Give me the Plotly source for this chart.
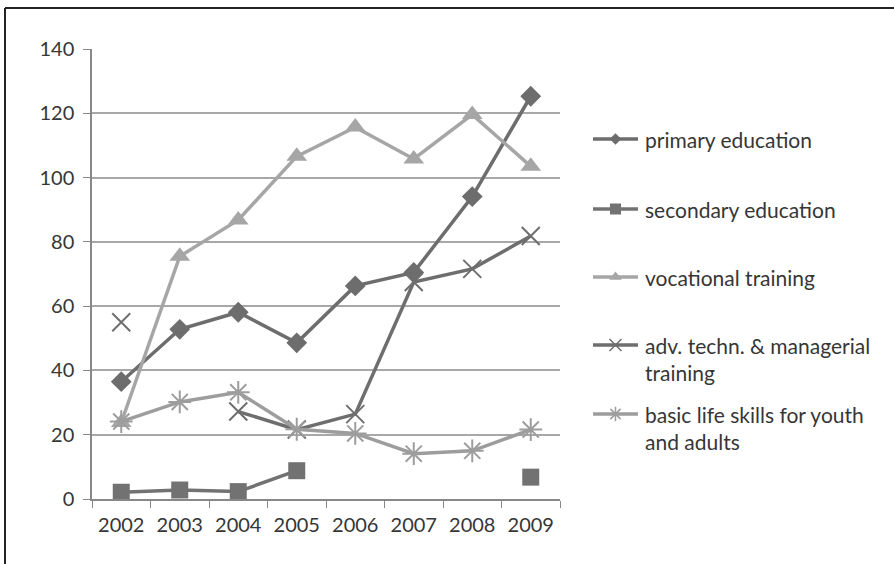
import plotly.graph_objects as go

years = ["2002", "2003", "2004", "2005", "2006", "2007", "2008", "2009"]
primary = [36.5, 52.8, 58.1, 48.6, 66.3, 70.5, 94.1, 125.3]
secondary = [2.1, 2.8, 2.3, 8.8, None, None, None, 6.8]
vocational = [23.8, 75.5, 86.8, 106.6, 115.7, 105.8, 119.6, 103.5]
advanced = [55.0, None, 27.2, 21.6, 26.4, 67.5, 71.6, 81.8]
basic = [24.1, 30.2, 33.2, 21.7, 20.4, 14.1, 15.0, 21.6]

names = ["primary education", "secondary education", "vocational training",
         "adv. techn. & managerial<br>training", "basic life skills for youth<br>and adults"]
series = [primary, secondary, vocational, advanced, basic]
colors = ["#6d6d6d", "#727272", "#a6a6a6", "#6e6e6e", "#9d9d9d"]
symbols = ["diamond", "square", "triangle-up", "x-thin-open", "asterisk-open"]
sizes = [16, 17, 18, 18, 19]
leg_sizes = [9, 11, 11, 12, 12]

FONT = "Lato"
W, H = 894, 564
L, R, T, B = 92, 560, 49, 499
fx = lambda x: x / W
fy = lambda y: 1 - y / H

fig = go.Figure()
for s, c, sym, sz in zip(series, colors, symbols, sizes):
    open_ = sym.endswith("open")
    fig.add_trace(go.Scatter(
        x=years, y=s, mode="lines+markers", connectgaps=False, showlegend=False,
        line=dict(color=c, width=3.5),
        marker=dict(symbol=sym, size=sz, color=c,
                    line=dict(color=c, width=2 if open_ else 0)),
    ))

# manual legend on a hidden axis
leg_px_y = [139, 209, 277, 345, 414]
for i, (c, sym, lsz) in enumerate(zip(colors, symbols, leg_sizes)):
    open_ = sym.endswith("open")
    fig.add_trace(go.Scatter(
        x=[0, 0.5, 1], y=[leg_px_y[i]] * 3, xaxis="x2", yaxis="y2", mode="lines",
        line=dict(color=c, width=3.5), showlegend=False, hoverinfo="skip"))
    fig.add_trace(go.Scatter(
        x=[0.5], y=[leg_px_y[i]], xaxis="x2", yaxis="y2", mode="markers",
        marker=dict(symbol=sym, size=lsz, color=c,
                    line=dict(color=c, width=1.5 if open_ else 0)),
        showlegend=False, hoverinfo="skip"))

annotations = []
for name, py in zip(names, leg_px_y):
    two = "<br>" in name
    annotations.append(dict(
        x=fx(643), y=fy(py), xref="paper", yref="paper",
        xanchor="left", yanchor="top" if two else "middle",
        yshift=14 if two else 0,
        text=name, showarrow=False, align="left",
        font=dict(family=FONT, size=21, color="#363636")))

fig.update_layout(
    width=W, height=H,
    margin=dict(l=0, r=0, t=0, b=0, autoexpand=False),
    paper_bgcolor="white", plot_bgcolor="white",
    font=dict(family=FONT, size=20, color="#363636"),
    xaxis=dict(type="category", range=[-0.5, 7.5], showgrid=False, domain=[fx(L), fx(R)],
               automargin=False, ticklabelstandoff=7,
               showline=True, linecolor="#888888", linewidth=1.5,
               ticks="outside", tickson="boundaries", ticklen=7, tickcolor="#888888",
               tickfont=dict(size=20, color="#363636"), zeroline=False),
    yaxis=dict(range=[0, 140], dtick=20, showgrid=True, gridcolor="#a8a8a8", gridwidth=1.5,
               domain=[fy(B), fy(T)], automargin=False, ticklabelstandoff=5,
               showline=True, linecolor="#888888", linewidth=1.5,
               ticks="outside", ticklen=7, tickcolor="#888888",
               tickfont=dict(size=20, color="#363636"), zeroline=False),
    xaxis2=dict(domain=[fx(593), fx(638)], range=[0, 1], visible=False, anchor="y2",
                automargin=False),
    yaxis2=dict(domain=[fy(500), fy(100)], range=[500, 100], visible=False, anchor="x2",
                automargin=False),
    annotations=annotations,
)
# frame lines (left and top)
fig.add_shape(type="line", xref="paper", yref="paper", x0=fx(5), x1=fx(5), y0=0, y1=fy(8),
              line=dict(color="#222222", width=2))
fig.add_shape(type="line", xref="paper", yref="paper", x0=fx(5), x1=1, y0=fy(8), y1=fy(8),
              line=dict(color="#222222", width=2))

fig.write_html("out.html")
